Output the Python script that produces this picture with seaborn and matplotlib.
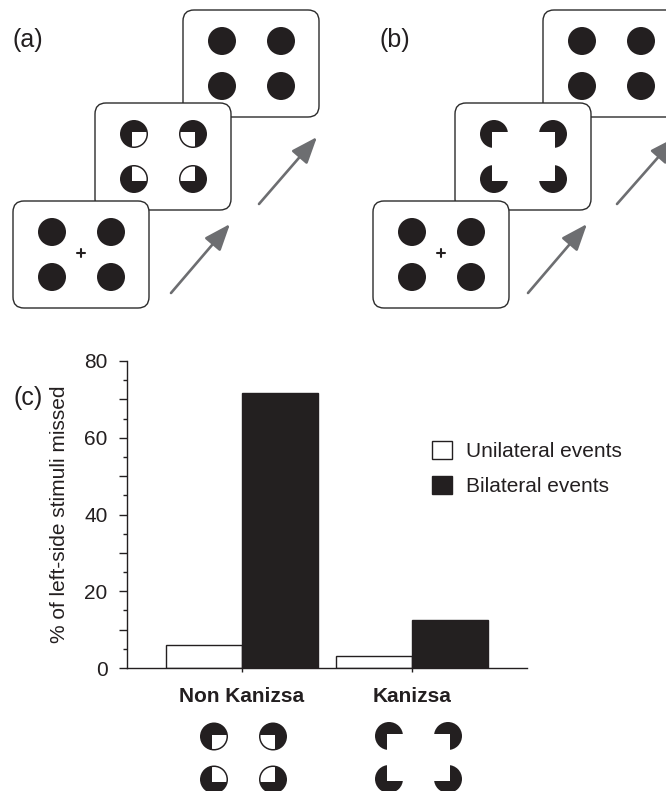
import pandas as pd
import matplotlib.pyplot as plt
import seaborn as sns
from matplotlib.patches import Circle, Rectangle, FancyBboxPatch, Patch
from matplotlib.ticker import MultipleLocator, FuncFormatter

# Data
conditions = ["Non Kanizsa", "Kanizsa"]
events = ["Unilateral events", "Bilateral events"]
unilateral = [6.0, 3.1]
bilateral = [71.6, 12.5]

INK = "#231f20"
GREY = "#6d6e71"

sns.set_style("ticks")
plt.rcParams['font.family'] = ['Liberation Sans', 'DejaVu Sans']
plt.rcParams['text.color'] = INK
plt.rcParams['axes.labelcolor'] = INK
plt.rcParams['xtick.color'] = INK
plt.rcParams['ytick.color'] = INK

df = pd.DataFrame({
    "condition": conditions * 2,
    "event": [events[0]] * 2 + [events[1]] * 2,
    "missed": unilateral + bilateral,
})

fig = plt.figure(figsize=(6.66, 7.91), dpi=100)

# Drawing layer in pixel coordinates (y downwards)
ov = fig.add_axes([0, 0, 1, 1])
ov.set_xlim(0, 666)
ov.set_ylim(791, 0)
ov.axis('off')


def icon(cx, cy, kind, z, r=14, dx=29.5, dy=22.5):
    # 2x2 set of discs, notches face the middle
    for sx, sy in [(-1, -1), (1, -1), (-1, 1), (1, 1)]:
        x, y = cx + sx * dx, cy + sy * dy
        ov.add_patch(Circle((x, y), r, fc=INK, ec='none', zorder=z))
        off = 2
        x0, y0 = x + sx * off, y + sy * off
        w = r + 4
        rx = x0 if sx < 0 else x0 - w
        ry = y0 if sy < 0 else y0 - w
        notch = Rectangle((rx, ry), w, w, fc='white', ec='none', zorder=z + 0.01)
        if kind == 'closed':
            clip = Circle((x, y), r - 1.5, transform=ov.transData)
        elif kind == 'kanizsa':
            clip = Circle((x, y), r + 1.5, transform=ov.transData)
        else:
            continue
        ov.add_patch(notch)
        notch.set_clip_path(clip)


def screen(x, y, kind, z, cross=False):
    ov.add_patch(FancyBboxPatch((x, y), 136, 107, boxstyle="round,pad=0,rounding_size=11",
                                fc='white', ec='#2b2b2b', lw=1.0, zorder=z))
    icon(x + 68.5, y + 53.5, kind, z + 0.1)
    if cross:
        cx, cy = x + 67.5, y + 52
        ov.plot([cx - 4, cx + 4], [cy, cy], color=INK, lw=1.5, zorder=z + 0.2)
        ov.plot([cx, cx], [cy - 4, cy + 4], color=INK, lw=1.5, zorder=z + 0.2)


def arrow(x0, y0, x1, y1):
    ov.annotate("", xy=(x1, y1), xytext=(x0, y0), zorder=5, annotation_clip=False,
                arrowprops=dict(arrowstyle="-|>,head_length=0.9,head_width=0.35",
                                color=GREY, lw=1.9, mutation_scale=18, shrinkA=0, shrinkB=0))


# panel (a)
screen(183, 10, 'full', 1)
screen(95, 103, 'closed', 2)
screen(13, 201, 'full', 3, cross=True)
arrow(171, 293, 230, 224)
arrow(259, 204, 317, 137)
ov.text(28, 40, "(a)", fontsize=18, ha='center', va='center')

# panel (b)
screen(543, 10, 'full', 1)
screen(455, 103, 'kanizsa', 2)
screen(373, 201, 'full', 3, cross=True)
arrow(528, 293, 587, 224)
arrow(617, 204, 676, 137)
ov.text(395, 40, "(b)", fontsize=18, ha='center', va='center')

# panel (c)
ov.text(28, 398, "(c)", fontsize=18, ha='center', va='center')
icon(243.5, 758, 'closed', 1, dy=21.5)
icon(418.5, 757.5, 'kanizsa', 1, dy=21.5)

ax = fig.add_axes([127 / 666, 1 - 668 / 791, 400 / 666, 307 / 791])
sns.barplot(data=df, x="condition", y="missed", hue="event", order=conditions,
            hue_order=events, palette=["white", INK], edgecolor=INK, linewidth=1.0,
            width=0.89, errorbar=None, ax=ax)
ax.patch.set_visible(False)
ax.set_xlim(-0.673, 1.673)
ax.set_ylim(0, 80)
sns.despine(ax=ax)
for s in ['left', 'bottom']:
    ax.spines[s].set_linewidth(1.0)
    ax.spines[s].set_color(INK)

ax.yaxis.set_major_locator(MultipleLocator(10))
ax.yaxis.set_minor_locator(MultipleLocator(5))
ax.yaxis.set_major_formatter(FuncFormatter(lambda v, p: f"{v:.0f}" if v % 20 == 0 else ""))
ax.tick_params(axis='y', which='major', length=6, width=1, pad=8, labelsize=15)
ax.tick_params(axis='y', which='minor', length=3, width=1)
ax.tick_params(axis='x', length=3, width=1, pad=11, labelsize=15)
for t in ax.get_xticklabels():
    t.set_fontweight('bold')
ax.set_xlabel("")
ax.set_ylabel("% of left-side stimuli missed", fontsize=15, labelpad=11)

handles = [Patch(fc='white', ec=INK, lw=1.0), Patch(fc=INK, ec=INK, lw=1.0)]
ax.legend(handles, events, loc='upper left', bbox_to_anchor=(432 / 666, 1 - 441 / 791),
          bbox_transform=fig.transFigure, frameon=False, fontsize=15,
          handlelength=0.96, handleheight=0.96, handletextpad=0.67, labelspacing=0.72,
          borderpad=0, borderaxespad=0)

fig.savefig("out.png", dpi=100)
